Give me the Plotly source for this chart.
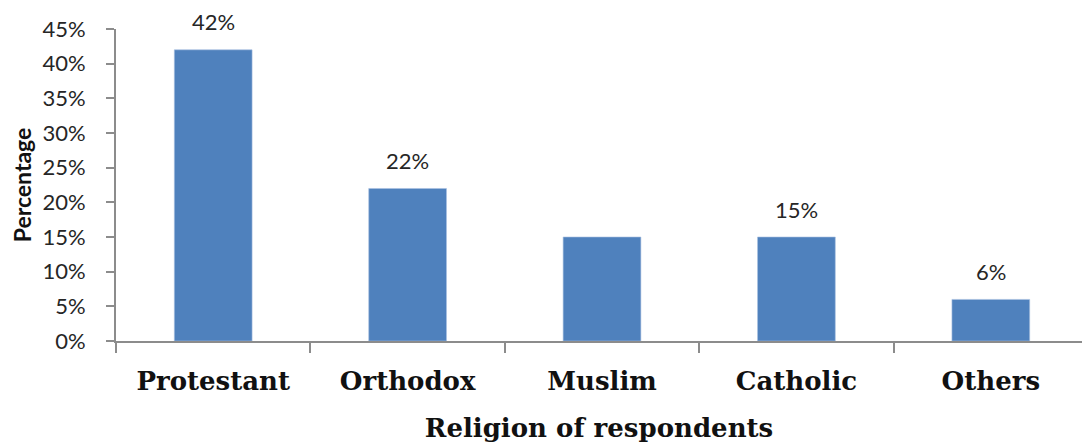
import plotly.graph_objects as go

# Survey breakdown by religion
religions = ["Protestant", "Orthodox", "Muslim", "Catholic", "Others"]
shares = [42, 22, 15, 15, 6]
show_label = [True, True, False, True, True]
y_ticks = [0, 5, 10, 15, 20, 25, 30, 35, 40, 45]
y_tick_text = [f"{v}%" for v in y_ticks]

bar_color = "#4F81BD"
axis_color = "#8C8C8C"
sans = "Lato, 'Open Sans', sans-serif"
serif = "'DejaVu Serif', 'Liberation Serif', serif"

fig = go.Figure(
    go.Bar(
        x=religions,
        y=shares,
        width=0.4,
        marker=dict(color=bar_color, line=dict(color="#A9C1E0", width=0.6)),
        hoverinfo="skip",
    )
)

annotations = [
    dict(
        x=cat, y=val, text=f"{val}%", showarrow=False,
        yshift=28, font=dict(family=sans, size=22, color="#262626"),
    )
    for cat, val, lab in zip(religions, shares, show_label) if lab
]

fig.update_layout(
    width=1082,
    height=443,
    margin=dict(l=116, r=0, t=29, b=102),
    plot_bgcolor="white",
    paper_bgcolor="white",
    showlegend=False,
    annotations=annotations,
    xaxis=dict(
        range=[-0.5, 4.469],
        showline=True, linecolor=axis_color, linewidth=2,
        ticks="outside", tickson="boundaries", ticklen=10, tickcolor=axis_color, tickwidth=2,
        ticklabelstandoff=16,
        tickfont=dict(family=serif, size=26, color="#111111", weight="bold"),
        title=dict(text="Religion of respondents", standoff=26,
                   font=dict(family=serif, size=26, color="#111111", weight="bold")),
        showgrid=False, zeroline=False,
    ),
    yaxis=dict(
        range=[0, 45],
        tickvals=y_ticks, ticktext=y_tick_text,
        showline=True, linecolor=axis_color, linewidth=2,
        ticks="outside", ticklen=8, tickcolor=axis_color, tickwidth=2,
        ticklabelstandoff=16,
        tickfont=dict(family=sans, size=22, color="#262626"),
        title=dict(text="Percentage", standoff=4,
                   font=dict(family=sans, size=23, color="#111111", weight="bold")),
        showgrid=False, zeroline=False,
    ),
)

fig.write_html("out.html")
